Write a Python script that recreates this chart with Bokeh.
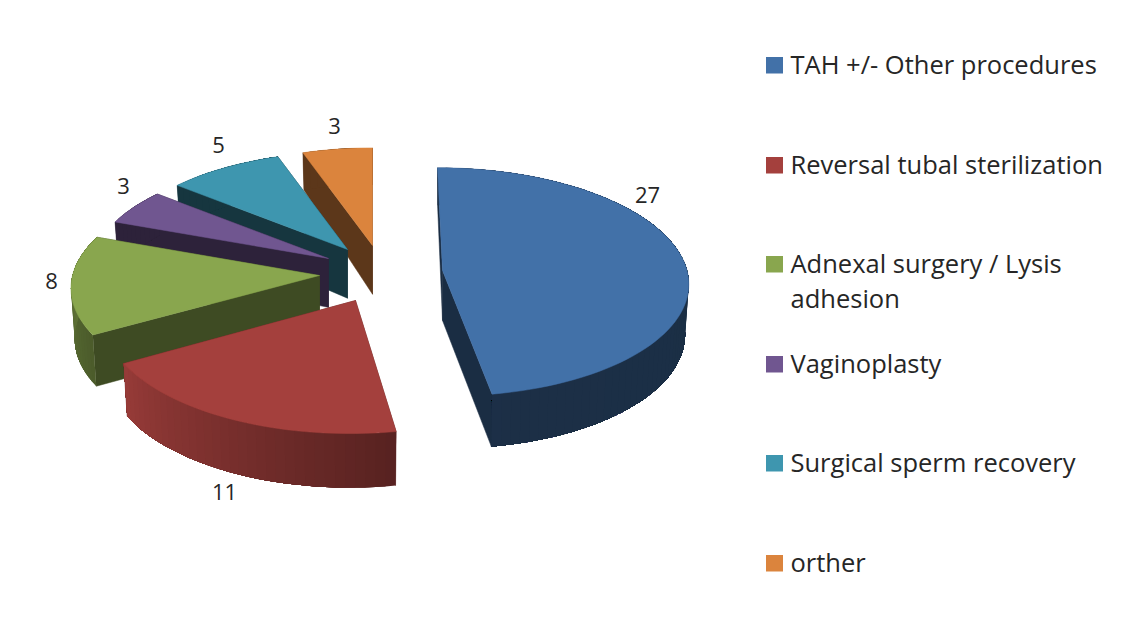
import math
from bokeh.plotting import figure
from bokeh.models import Range1d
from bokeh.core.properties import value
from bokeh.embed import file_html
from bokeh.resources import INLINE

# ---- data ----
categories = ["TAH +/- Other procedures", "Reversal tubal sterilization",
              "Adnexal surgery / Lysis\nadhesion", "Vaginoplasty",
              "Surgical sperm recovery", "orther"]
values = [27, 11, 8, 3, 5, 3]

# ---- styles ----
top_colors = [(66, 113, 168), (164, 64, 61), (137, 166, 78),
              (112, 86, 144), (62, 150, 175), (219, 132, 61)]
side_factor = [0.40, 0.55, 0.45, 0.40, 0.36, 0.42]
wall_factor = [(0.40, 0.42), (0.53, 0.92), (0.55, 0.75),
               (0.40, 0.40), (0.36, 0.36), (0.42, 0.42)]

# ---- layout: pixel-like space of the picture ----
W, H = 1108, 613
apexes = [(442, 270), (355, 300), (319, 275), (328, 258), (347, 249), (372, 245)]
scales = [1.0, 1.06, 1.0, 0.955, 0.95, 0.95]
x_scales = [0.99, 0.96, 1.0, 1.0, 1.0, 1.0]
skews = [-5.0, 5.0, 3.0, 0.0, 0.0, 0.0]
label_pos = [(647, 204), (224, 501), (51, 290), (123, 195), (218, 154), (334, 135)]
RX, RY, K, DEPTH = 247.0, 113.0, 0.10, 50.0
legend_x, legend_text_x = 765.5, 790
legend_base = [73, 173, 272, 372, 471, 571]
TEXT_SHIFT = -10
FONT = "Open Sans"

def rgb(c, f=1.0):
    return "#%02x%02x%02x" % tuple(max(0, min(255, int(round(x * f)))) for x in c)

def top_pt(i, th):
    ax, ay = apexes[i]
    u, v = math.sin(th), math.cos(th)
    s = 1.0 / (1.0 + K * v)
    sc = scales[i]
    return ax + sc * (x_scales[i] * RX * u * s + skews[i] * v), ay - sc * RY * v * s

def bottom_of(i, x, y, v):
    ax, _ = apexes[i]
    d = DEPTH * scales[i] ** 0.5 * ((1 - 0.25 * v) if v > 0 else (1 - 0.05 * v))
    return ax + (x - ax) * 0.985, y + d

p = figure(width=W, height=H, output_backend="svg", toolbar_location=None,
           x_range=Range1d(0, W), y_range=Range1d(H, 0),
           min_border=0, min_border_left=0, min_border_right=0,
           min_border_top=0, min_border_bottom=0)
p.axis.visible = False
p.grid.visible = False
p.outline_line_color = None
p.background_fill_color = "#ffffff"
p.border_fill_color = "#ffffff"

total = sum(values)
bounds = []
acc = 0
for v_ in values:
    bounds.append((2 * math.pi * acc / total, 2 * math.pi * (acc + v_) / total))
    acc += v_

def poly(xs, ys, col, lw=0.5):
    p.patch(xs, ys, fill_color=col, line_color=col if lw else None, line_width=lw or 1)

for i in [5, 4, 3, 2, 1, 0]:
    a, b = bounds[i]
    n = max(10, int(values[i] * 3))
    ths = [a + (b - a) * k / n for k in range(n + 1)]
    ax, ay = apexes[i]
    apex_bottom = bottom_of(i, ax, ay, 0.0)
    side = rgb(top_colors[i], side_factor[i])
    for th in (b, a):
        x, y = top_pt(i, th)
        bx, by = bottom_of(i, x, y, math.cos(th))
        poly([ax, x, bx, apex_bottom[0]], [ay, y, by, apex_bottom[1]], side)
    f0, f1 = wall_factor[i]
    for k in range(n):
        band = ths[k:]
        ups = [top_pt(i, t) for t in band]
        los = [bottom_of(i, q[0], q[1], math.cos(t)) for q, t in zip(ups, band)]
        f = f0 + (f1 - f0) * (k + 0.5) / n
        col = rgb(top_colors[i], f)
        poly([q[0] for q in ups] + [q[0] for q in reversed(los)],
             [q[1] for q in ups] + [q[1] for q in reversed(los)], col, 0)
    pts = [top_pt(i, t) for t in ths]
    poly([ax] + [q[0] for q in pts], [ay] + [q[1] for q in pts], rgb(top_colors[i]))

# data labels
p.text(x=[q[0] for q in label_pos], y=[q[1] + TEXT_SHIFT for q in label_pos],
       text=[str(v_) for v_ in values], text_font=value(FONT), text_font_size="22px",
       text_color="#262626", text_align="center", text_baseline="alphabetic")

# legend
rows_x, rows_y, rows_t = [], [], []
for i, cat in enumerate(categories):
    base = legend_base[i]
    p.quad(left=[legend_x], right=[legend_x + 17], top=[base - 16.5], bottom=[base],
           fill_color=rgb(top_colors[i]), line_color=None)
    for j, line in enumerate(cat.split("\n")):
        rows_x.append(legend_text_x)
        rows_y.append(base + 35 * j + TEXT_SHIFT)
        rows_t.append(line)
p.text(x=rows_x, y=rows_y, text=rows_t, text_font=value(FONT), text_font_size="25.5px",
       text_color="#262626", text_align="left", text_baseline="alphabetic")

open("out.html", "w").write(file_html(p, INLINE))
